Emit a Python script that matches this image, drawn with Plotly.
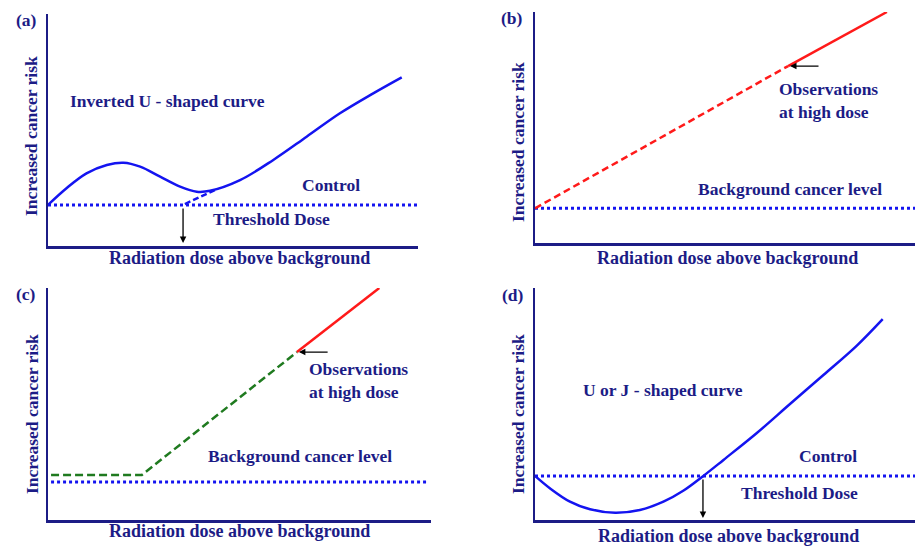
import plotly.graph_objects as go

W, H = 915, 546
NAVY = "#1c1c86"
BLUE = "#1414f0"
RED = "#ff1a1a"
GREEN = "#1f7a1f"
FONT = "Liberation Serif"

# ---------------- data (arbitrary units, axes 0..10) ----------------
# (a) inverted U-shaped curve
a_curve_x = [0, 0.5, 1.04, 1.59, 2.04, 2.49, 3.03, 3.57, 4.02, 4.38, 5.19, 6.09, 6.99, 7.89, 8.79, 9.56]
a_curve_y = [1.77, 2.49, 3.13, 3.49, 3.59, 3.42, 2.99, 2.56, 2.34, 2.38, 2.84, 3.71, 4.71, 5.72, 6.58, 7.27]
a_control_x = [0, 10]
a_control_y = [1.77, 1.77]
a_thresh_x = [3.70, 4.51]
a_thresh_y = [1.81, 2.41]
a_arrow = dict(x=3.65, y=0.13, ax=3.65, ay=1.68)

# (b) linear no-threshold
b_dashed_x = [0, 6.66]
b_dashed_y = [1.5, 7.66]
b_solid_x = [6.66, 9.26]
b_solid_y = [7.66, 10.0]
b_background_x = [0, 10]
b_background_y = [1.5, 1.5]
b_arrow = dict(x=6.71, y=7.66, ax=7.5, ay=7.66)

# (c) threshold model
c_green_x = [0.08, 2.45, 6.50]
c_green_y = [1.94, 1.94, 7.24]
c_red_x = [6.50, 8.65]
c_red_y = [7.24, 10.0]
c_background_x = [0.08, 9.92]
c_background_y = [1.64, 1.64]
c_arrow = dict(x=6.55, y=7.24, ax=7.34, ay=7.24)

# (d) U or J-shaped curve
d_curve_x = [0, 0.39, 0.92, 1.45, 2.11, 2.76, 3.38, 3.90, 4.43, 4.96, 5.83, 6.71, 7.59, 8.47, 9.15]
d_curve_y = [1.90, 1.37, 0.79, 0.46, 0.31, 0.43, 0.79, 1.26, 1.90, 2.59, 3.74, 5.00, 6.25, 7.52, 8.66]
d_control_x = [0, 10]
d_control_y = [1.90, 1.90]
d_arrow = dict(x=4.42, y=0.09, ax=4.42, ay=1.81)

panel_labels = ["(a)", "(b)", "(c)", "(d)"]
x_title = "Radiation dose above background"
y_title = "Increased cancer risk"

# ---------------- layout geometry (pixels) ----------------
panels = {
    "a": dict(xs="x", ys="y", px=(48, 418), py=(14, 246)),
    "b": dict(xs="x2", ys="y2", px=(535, 915), py=(12, 243)),
    "c": dict(xs="x3", ys="y3", px=(48, 431), py=(288, 520)),
    "d": dict(xs="x4", ys="y4", px=(535, 915), py=(288, 520)),
}

fig = go.Figure()


def line(p, x, y, color, width, dash="solid", shape="linear"):
    fig.add_trace(go.Scatter(
        x=x, y=y, mode="lines", xaxis=panels[p]["xs"], yaxis=panels[p]["ys"],
        line=dict(color=color, width=width, dash=dash, shape=shape, smoothing=1.0),
        hoverinfo="skip", showlegend=False))


line("a", a_control_x, a_control_y, BLUE, 3, "dot")
line("a", a_thresh_x, a_thresh_y, BLUE, 2.5, "6px,3px")
line("a", a_curve_x, a_curve_y, BLUE, 2.5, shape="spline")

line("b", b_background_x, b_background_y, BLUE, 3, "dot")
line("b", b_dashed_x, b_dashed_y, RED, 2.5, "7px,4px")
line("b", b_solid_x, b_solid_y, RED, 2.5)

line("c", c_background_x, c_background_y, BLUE, 3, "dot")
line("c", c_green_x, c_green_y, GREEN, 2.5, "8px,4px")
line("c", c_red_x, c_red_y, RED, 2.5)

line("d", d_control_x, d_control_y, BLUE, 3, "dot")
line("d", d_curve_x, d_curve_y, BLUE, 2.5, shape="spline")

layout = dict(width=W, height=H, margin=dict(l=0, r=0, t=0, b=0),
              paper_bgcolor="white", plot_bgcolor="white", showlegend=False,
              hovermode=False)

for key, p in panels.items():
    xn = "xaxis" + p["xs"][1:]
    yn = "yaxis" + p["ys"][1:]
    layout[xn] = dict(domain=[p["px"][0] / W, p["px"][1] / W], range=[0, 10],
                      anchor=p["ys"], showline=True, linecolor=NAVY, linewidth=2.5,
                      showgrid=False, zeroline=False, showticklabels=False, ticks="",
                      fixedrange=True)
    layout[yn] = dict(domain=[1 - p["py"][1] / H, 1 - p["py"][0] / H], range=[0, 10],
                      anchor=p["xs"], showline=True, linecolor=NAVY, linewidth=2.5,
                      showgrid=False, zeroline=False, showticklabels=False, ticks="",
                      fixedrange=True)
fig.update_layout(**layout)

TXT = dict(family=FONT, size=17.5, color=NAVY, weight="bold")
ann = []


def dtext(p, text, x, y, xanchor="center", align="center"):
    ann.append(dict(text=text, x=x, y=y, xref=panels[p]["xs"], yref=panels[p]["ys"],
                    showarrow=False, xanchor=xanchor, yanchor="middle", align=align,
                    font=TXT))


def ptext(text, px, py, size=17.5, angle=0):
    ann.append(dict(text=text, x=px / W, y=1 - py / H, xref="paper", yref="paper",
                    showarrow=False, xanchor="center", yanchor="middle", textangle=angle,
                    font=dict(family=FONT, size=size, color=NAVY, weight="bold")))


def arrow(p, a):
    ann.append(dict(x=a["x"], y=a["y"], ax=a["ax"], ay=a["ay"], xref=panels[p]["xs"],
                    yref=panels[p]["ys"], axref=panels[p]["xs"], ayref=panels[p]["ys"],
                    showarrow=True, arrowhead=2, arrowsize=1, arrowwidth=1.3,
                    arrowcolor="black", text=""))


dtext("a", "Inverted U - shaped curve", 3.22, 6.25)
dtext("a", "Control", 7.65, 2.63)
dtext("a", "Threshold Dose", 6.03, 1.16)
arrow("a", a_arrow)

dtext("b", "Observations<br>at high dose", 6.37, 6.15, xanchor="left", align="left")
dtext("b", "Background cancer level", 6.72, 2.34)
arrow("b", b_arrow)

dtext("c", "Observations<br>at high dose", 6.76, 6.01, xanchor="left", align="left")
dtext("c", "Background cancer level", 6.58, 2.76)
arrow("c", c_arrow)

dtext("d", "U or J - shaped curve", 3.37, 5.60)
dtext("d", "Control", 7.72, 2.76)
dtext("d", "Threshold Dose", 6.97, 1.16)
arrow("d", d_arrow)

# panel labels, axis titles
for lab, (px, py) in zip(panel_labels, [(26, 20), (512, 18), (26, 294), (513, 295)]):
    ptext(lab, px, py)
for px, py in [(239, 258), (727, 258), (239, 531), (728, 536)]:
    ptext(x_title, px, py, size=18)
for px, py in [(31, 136), (518, 142), (32, 414), (518, 414)]:
    ptext(y_title, px, py, size=17.5, angle=-90)

fig.update_layout(annotations=ann)
fig.write_html("out.html", config={"displayModeBar": False, "staticPlot": True},
               post_script="document.body.style.margin='0';document.body.style.overflow='hidden';")
